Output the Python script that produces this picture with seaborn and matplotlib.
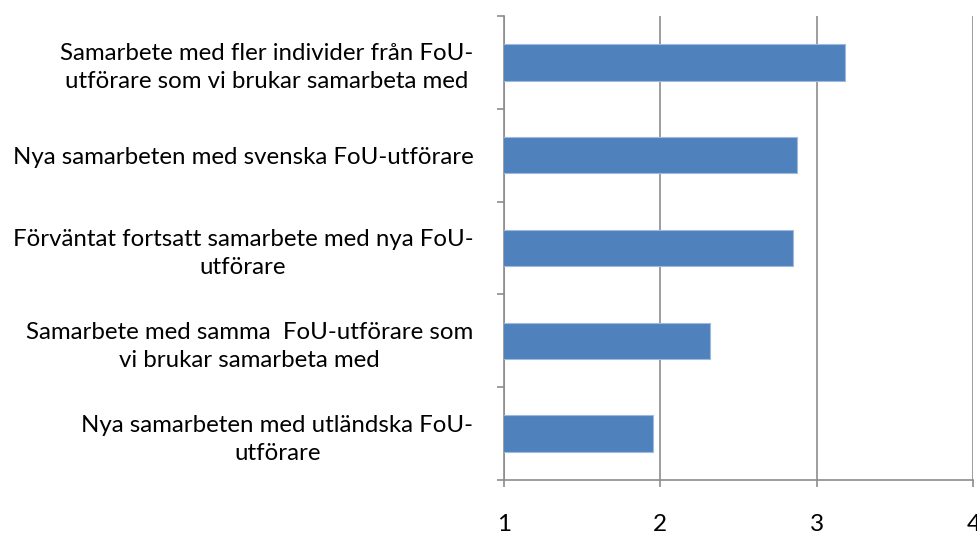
import matplotlib
matplotlib.use("Agg")
import matplotlib.pyplot as plt
import seaborn as sns
import pandas as pd
import numpy as np

categories = [
    "Samarbete med fler individer från FoU-\nutförare som vi brukar samarbeta med",
    "Nya samarbeten med svenska FoU-utförare",
    "Förväntat fortsatt samarbete med nya FoU-\nutförare",
    "Samarbete med samma  FoU-utförare som\nvi brukar samarbeta med",
    "Nya samarbeten med utländska FoU-\nutförare",
]
values = [3.18, 2.87, 2.85, 2.32, 1.95]
x_ticks = [1, 2, 3, 4]

sns.set_theme(style="white")
plt.rcParams['font.family'] = ['Lato', 'DejaVu Sans']

df = pd.DataFrame({"cat": categories, "val": values})

fig = plt.figure(figsize=(9.78, 5.38), dpi=100)
ax = fig.add_axes([0.5153, 0.1073, 0.9952 - 0.5153, 0.9708 - 0.1073])

sns.barplot(data=df, x="val", y="cat", orient="h", color="#4F81BD",
            saturation=1, width=0.395, edgecolor="#9DB9DF", linewidth=0.8,
            ax=ax, zorder=3)

ax.set_xlim(1, 4)
ax.set_ylim(4.5, -0.5)
ax.set_xlabel("")
ax.set_ylabel("")

grid_c = "#8C8C8C"
ax.set_xticks(x_ticks)
ax.set_xticklabels([str(t) for t in x_ticks])
ax.xaxis.grid(True, color=grid_c, linewidth=1.2, zorder=0)
ax.set_axisbelow(True)

n = len(categories)
ax.set_yticks(np.arange(-0.5, n, 1.0))
ax.set_yticklabels([""] * (n + 1))
ax.set_yticks(np.arange(n), minor=True)
ax.set_yticklabels(categories, minor=True, ha="right", multialignment="center",
                   linespacing=1.4)

ax.tick_params(axis="y", which="major", direction="out", length=5, width=1.2,
               color=grid_c, left=True)
ax.tick_params(axis="y", which="minor", length=0, pad=22, labelsize=17.3,
               labelcolor="black")
ax.tick_params(axis="x", which="major", direction="out", length=5, width=1.2,
               color=grid_c, bottom=True, pad=19, labelsize=17.5, labelcolor="black")

for s in ["top", "right"]:
    ax.spines[s].set_visible(False)
for s in ["left", "bottom"]:
    ax.spines[s].set_color(grid_c)
    ax.spines[s].set_linewidth(1.2)

fig.savefig("out.png", dpi=100)
